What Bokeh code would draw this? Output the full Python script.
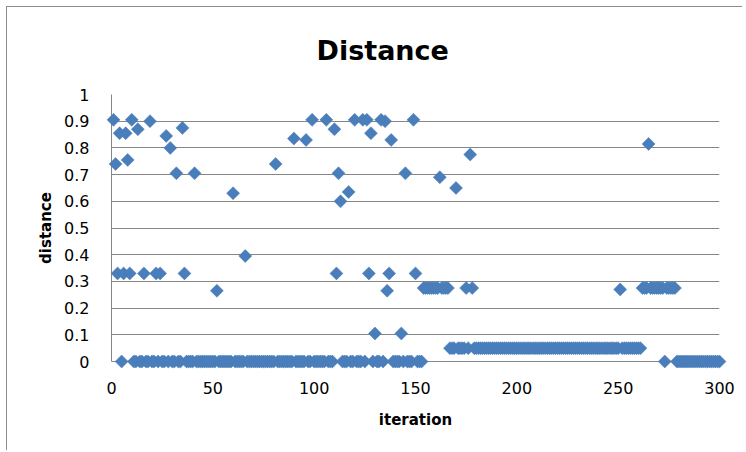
from bokeh.plotting import figure
from bokeh.models import Range1d, FixedTicker, Title
from bokeh.embed import file_html
from bokeh.resources import INLINE

title_text = "Distance"
x_label = "iteration"
y_label = "distance"

x_ticks = [0, 50, 100, 150, 200, 250, 300]
y_ticks = [0, 0.1, 0.2, 0.3, 0.4, 0.5, 0.6, 0.7, 0.8, 0.9, 1]

iteration = [
    1, 2, 3, 4, 5, 6, 7, 8, 9, 10,
    11, 12, 13, 14, 15, 16, 17, 18, 19, 20,
    21, 22, 23, 24, 25, 26, 27, 28, 29, 30,
    31, 32, 33, 34, 35, 36, 37, 38, 39, 40,
    41, 42, 43, 44, 45, 46, 47, 48, 49, 50,
    51, 52, 53, 54, 55, 56, 57, 58, 59, 60,
    61, 62, 63, 64, 65, 66, 67, 68, 69, 70,
    71, 72, 73, 74, 75, 76, 77, 78, 79, 80,
    81, 82, 83, 84, 85, 86, 87, 88, 89, 90,
    91, 92, 93, 94, 95, 96, 97, 98, 99, 100,
    101, 102, 103, 104, 105, 106, 107, 108, 109, 110,
    111, 112, 113, 114, 115, 116, 117, 118, 119, 120,
    121, 122, 123, 124, 125, 126, 127, 128, 129, 130,
    131, 132, 133, 134, 135, 136, 137, 138, 139, 140,
    141, 142, 143, 144, 145, 146, 147, 148, 149, 150,
    151, 152, 153, 154, 155, 156, 157, 158, 159, 160,
    161, 162, 163, 164, 165, 166, 167, 168, 169, 170,
    171, 172, 173, 174, 175, 176, 177, 178, 179, 180,
    181, 182, 183, 184, 185, 186, 187, 188, 189, 190,
    191, 192, 193, 194, 195, 196, 197, 198, 199, 200,
    201, 202, 203, 204, 205, 206, 207, 208, 209, 210,
    211, 212, 213, 214, 215, 216, 217, 218, 219, 220,
    221, 222, 223, 224, 225, 226, 227, 228, 229, 230,
    231, 232, 233, 234, 235, 236, 237, 238, 239, 240,
    241, 242, 243, 244, 245, 246, 247, 248, 249, 250,
    251, 252, 253, 254, 255, 256, 257, 258, 259, 260,
    261, 262, 263, 264, 265, 266, 267, 268, 269, 270,
    271, 272, 273, 274, 275, 276, 277, 278, 279, 280,
    281, 282, 283, 284, 285, 286, 287, 288, 289, 290,
    291, 292, 293, 294, 295, 296, 297, 298, 299, 300,
]

distance = [
    0.905, 0.74, 0.33, 0.855, 0, 0.33, 0.855, 0.755, 0.33, 0.905,
    0, 0, 0.87, 0, 0, 0.33, 0, 0, 0.9, 0,
    0, 0.33, 0, 0.33, 0, 0, 0.845, 0, 0.8, 0,
    0, 0.705, 0, 0, 0.875, 0.33, 0, 0, 0, 0,
    0.705, 0, 0, 0, 0, 0, 0, 0, 0, 0,
    0, 0.265, 0, 0, 0, 0, 0, 0, 0, 0.63,
    0, 0, 0, 0, 0, 0.395, 0, 0, 0, 0,
    0, 0, 0, 0, 0, 0, 0, 0, 0, 0,
    0.74, 0, 0, 0, 0, 0, 0, 0, 0, 0.835,
    0, 0, 0, 0, 0, 0.83, 0, 0, 0.905, 0,
    0, 0, 0, 0, 0, 0.905, 0, 0, 0, 0.87,
    0.33, 0.705, 0.6, 0, 0, 0, 0.635, 0, 0, 0.905,
    0, 0, 0, 0.905, 0, 0.905, 0.33, 0.855, 0, 0.105,
    0, 0, 0.905, 0, 0.9, 0.265, 0.33, 0.83, 0, 0,
    0, 0, 0.105, 0, 0.705, 0, 0, 0, 0.905, 0.33,
    0, 0, 0, 0.275, 0.275, 0.275, 0.275, 0.275, 0.275, 0.275,
    0.275, 0.69, 0.275, 0.275, 0.275, 0.275, 0.05, 0.05, 0.05, 0.65,
    0.05, 0.05, 0.05, 0.05, 0.275, 0.05, 0.775, 0.275, 0.05, 0.05,
    0.05, 0.05, 0.05, 0.05, 0.05, 0.05, 0.05, 0.05, 0.05, 0.05,
    0.05, 0.05, 0.05, 0.05, 0.05, 0.05, 0.05, 0.05, 0.05, 0.05,
    0.05, 0.05, 0.05, 0.05, 0.05, 0.05, 0.05, 0.05, 0.05, 0.05,
    0.05, 0.05, 0.05, 0.05, 0.05, 0.05, 0.05, 0.05, 0.05, 0.05,
    0.05, 0.05, 0.05, 0.05, 0.05, 0.05, 0.05, 0.05, 0.05, 0.05,
    0.05, 0.05, 0.05, 0.05, 0.05, 0.05, 0.05, 0.05, 0.05, 0.05,
    0.05, 0.05, 0.05, 0.05, 0.05, 0.05, 0.05, 0.05, 0.05, 0.05,
    0.27, 0.05, 0.05, 0.05, 0.05, 0.05, 0.05, 0.05, 0.05, 0.05,
    0.05, 0.275, 0.275, 0.275, 0.815, 0.275, 0.275, 0.275, 0.275, 0.275,
    0.275, 0.275, 0, 0.275, 0.275, 0.275, 0.275, 0.275, 0, 0,
    0, 0, 0, 0, 0, 0, 0, 0, 0, 0,
    0, 0, 0, 0, 0, 0, 0, 0, 0, 0,
]

FONT = "DejaVu Sans"
GRID = "#868686"
BLUE = "#4a7ebb"

p = figure(width=736, height=444, output_backend="svg", toolbar_location=None,
           x_range=Range1d(0, 300), y_range=Range1d(0, 1),
           min_border_left=104, min_border_right=24,
           min_border_top=87, min_border_bottom=90)
p.styles = {"margin-left": "6px", "margin-top": "6px",
            "border-left": "1px solid #8c8c8c", "border-top": "1px solid #8c8c8c"}
p.outline_line_color = None
p.background_fill_color = "white"
p.border_fill_color = "white"

p.title = Title(text=title_text, align="left", offset=205, standoff=53,
                vertical_align="top",
                text_font=FONT, text_font_size="27px", text_font_style="bold",
                text_color="#000000")

p.xgrid.visible = False
p.ygrid.grid_line_color = GRID
p.ygrid.grid_line_width = 1
p.ygrid.ticker = FixedTicker(ticks=y_ticks)

p.xaxis.ticker = FixedTicker(ticks=x_ticks)
p.yaxis.ticker = FixedTicker(ticks=y_ticks)
p.yaxis.major_label_overrides = {0: "0", 1: "1"}
for ax in (p.xaxis[0], p.yaxis[0]):
    ax.axis_line_color = GRID
    ax.major_tick_line_color = None
    ax.minor_tick_line_color = None
    ax.major_tick_out = 0
    ax.major_tick_in = 0
    ax.major_label_text_font = FONT
    ax.major_label_text_font_size = "16px"
    ax.major_label_text_color = "#000000"
    ax.axis_label_text_font = FONT
    ax.axis_label_text_font_size = "15px"
    ax.axis_label_text_font_style = "bold"
    ax.axis_label_text_color = "#000000"
p.xaxis.major_label_standoff = 20
p.yaxis.major_label_standoff = 22
p.xaxis.axis_label = x_label
p.yaxis.axis_label = y_label
p.xaxis.axis_label_standoff = 14
p.yaxis.axis_label_standoff = 6

r = p.scatter(iteration, distance, marker="square", angle=0.785398, size=9.2,
              fill_color=BLUE, line_color=BLUE, line_width=0.5)
r.level = "overlay"

open("out.html", "w").write(file_html(p, INLINE))
